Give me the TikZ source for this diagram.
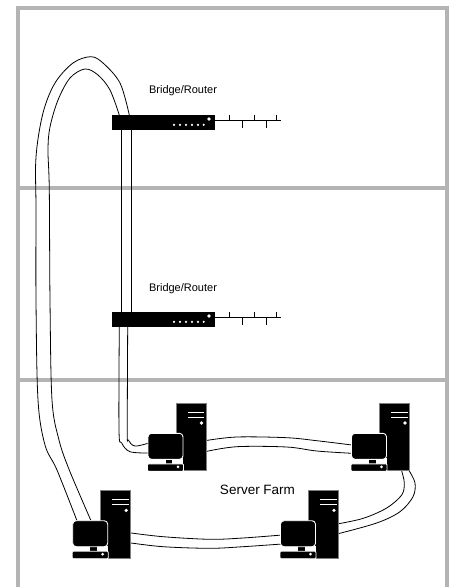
\documentclass[tikz,border=0pt]{standalone}
\usepackage{fontspec}
\setmainfont{Liberation Sans}
\definecolor{framegray}{HTML}{B4B4B4}
\tikzset{
  framepart/.style={draw=framegray,line width=4.4pt},
  cable/.style={draw=black,line width=0.8pt,smooth,tension=0.55},
  routerbox/.style={draw=none,fill=black,minimum width=102.5pt,minimum height=15.5pt,inner sep=0pt,outer sep=0pt,anchor=north west},
  towerbox/.style={draw=framegray!70!black,line width=0.9pt,fill=black,minimum width=30pt,minimum height=67.5pt,inner sep=0pt,outer sep=0pt,anchor=north west},
  monitorbox/.style={draw=white,line width=0.9pt,fill=black,rounded corners=3.5pt,minimum width=35pt,minimum height=26pt,inner sep=0pt,outer sep=0pt,anchor=north west},
  basebox/.style={draw=white,line width=0.9pt,fill=black,rounded corners=1pt,minimum width=36pt,minimum height=7.5pt,inner sep=0pt,outer sep=0pt,anchor=north west},
  neckbox/.style={fill=black,minimum width=6.5pt,minimum height=6pt,inner sep=0pt,outer sep=0pt,anchor=north west},
  labelsmall/.style={font=\fontsize{11}{11}\selectfont,inner sep=0pt},
  labelbig/.style={font=\fontsize{13.5}{13.5}\selectfont,inner sep=0pt},
  computer/.pic={
    \node[towerbox] (-tower) at (0,0) {};
    \draw[white,line width=1pt] (11.5,9) -- (28,9) (11.5,13.7) -- (28,13.7);
    \fill[white] (25.5,19.7) circle (1.8pt);
    \fill[white] (-16,55) rectangle (7,62);
    \node[neckbox] (-neck) at (-10.5,55.5) {};
    \node[monitorbox] (-monitor) at (-28,30) {};
    \node[basebox] (-base) at (-28.5,60.5) {};
    \fill[white] (2,63.5) circle (1.5pt);
  },
  routerdev/.pic={
    \node[routerbox] (-box) at (0,0) {};
    \foreach \dx in {62,68,74,80,86,91.7}{\fill[white] (\dx,10.3) circle (1.2pt);}
    \fill[white] (97,4.5) circle (1.8pt);
    \draw[black,line width=1pt] (102,6.4) -- (168.7,6.4);
    \draw[black,line width=1pt] (117.7,0) -- (117.7,6.4) (142,0) -- (142,6.4) (164.3,0) -- (164.3,6.4)
      (130,6.4) -- (130,13) (154.7,6.4) -- (154.7,13);
  }
}
\begin{document}
\begin{tikzpicture}[x=1pt,y=-1pt]
\useasboundingbox (0,0) rectangle (453,587);
\fill[white] (0,0) rectangle (453,587);
% frame
\draw[framepart] (18,8) rectangle (447,589);
\draw[framepart] (18,188) -- (447,188);
\draw[framepart] (18,380) -- (447,380);
% anchors for cables
\coordinate (rAtopO) at (129.3,115);
\coordinate (rAtopI) at (119.3,115);
\coordinate (sDO) at (76.7,520);
\coordinate (sDI) at (90.7,520);
\coordinate (rAbotL) at (121,130);
\coordinate (rAbotR) at (131.3,130);
\coordinate (rBtopL) at (121,312);
\coordinate (rBtopR) at (131.3,312);
\coordinate (rBbotL) at (119.3,326);
\coordinate (rBbotR) at (127.7,326);
\coordinate (sAl1) at (149,453);
\coordinate (sAl2) at (149,443);
\coordinate (sAr1) at (205,440.7);
\coordinate (sAr2) at (205,451.7);
\coordinate (sBl1) at (352,445);
\coordinate (sBl2) at (352,453.3);
\coordinate (sBb1) at (409.3,471);
\coordinate (sBb2) at (401.7,471);
\coordinate (sCr1) at (337,534);
\coordinate (sCr2) at (337,524);
\coordinate (sCl1) at (282,535);
\coordinate (sCl2) at (282,544);
\coordinate (sDr1) at (129,532.7);
\coordinate (sDr2) at (129,542.7);
% long loop
\draw[cable] plot coordinates {(rAtopO) (120,83) (103,63) (90.7,56.7) (73,63) (55,83) (43,113) (36,157) (36,210) (36,300) (38,400) (45,445) (57,470) (sDO)};
\draw[cable] plot coordinates {(rAtopI) (110,90) (98,75) (85,69) (70,78) (58,100) (50,127) (48,150) (49.3,190) (50,300) (52,400) (59,440) (69.3,470) (sDI)};
% between routers
\draw[black,line width=0.8pt] (rAbotL) -- (rBtopL);
\draw[black,line width=0.8pt] (rAbotR) -- (rBtopR);
% router 2 to server A
\draw[cable] plot coordinates {(rBbotL) (119,430) (121.7,443) (130,451.7) (sAl1)};
\draw[cable] plot coordinates {(rBbotR) (127.3,430) (128.3,440) (135,446) (sAl2)};
% A-B
\draw[cable] plot coordinates {(sAr1) (236.7,437) (286.7,437.7) (316.7,440.7) (sBl1)};
\draw[cable] plot coordinates {(sAr2) (236.7,446.7) (286.7,447) (316.7,451) (sBl2)};
% B-C
\draw[cable] plot coordinates {(sBb1) (415,483) (413,496.7) (400,511.7) (376.7,523) (sCr2 |- 0,534) };
\draw[cable] plot coordinates {(sBb2) (404.3,483) (401.7,495) (386.7,508) (363.3,518.3) (sCr2)};
% C-D
\draw[cable] plot coordinates {(sDr1) (163,536.7) (210,539.3) (243,538) (sCl1)};
\draw[cable] plot coordinates {(sDr2) (163,546.7) (210,548.3) (243,546.7) (sCl2)};
% devices
\pic (r1) at (112,114.5) {routerdev};
\pic (r2) at (112,311.5) {routerdev};
\pic (sa) at (176,403.3) {computer};
\pic (sb) at (379.5,403.3) {computer};
\pic (sc) at (308.5,490.7) {computer};
\pic (sd) at (100.7,490.7) {computer};
% labels
\node[labelsmall] (l1) at (183,90.5) {Bridge/Router};
\node[labelsmall] (l2) at (183,288.5) {Bridge/Router};
\node[labelbig] (l3) at (257.5,489.5) {Server Farm};
\end{tikzpicture}
\end{document}
